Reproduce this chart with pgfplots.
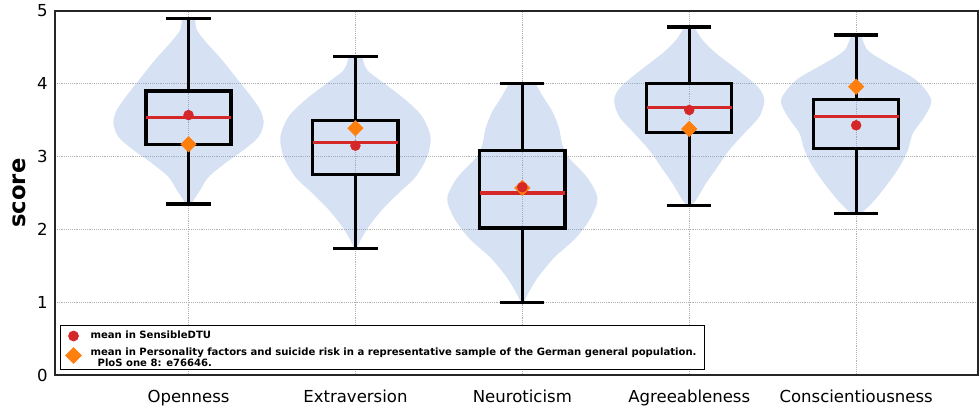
\documentclass[border=0pt]{standalone}
\usepackage{pgfplots}
\pgfplotsset{compat=1.18}
\usepackage{pgfplotstable}
\usepgfplotslibrary{statistics}
\usepackage{fontspec}
\setmainfont{DejaVu Sans}
\definecolor{vio}{RGB}{120,160,215}
\definecolor{mred}{RGB}{214,39,40}
\definecolor{morange}{RGB}{255,127,14}

\pgfplotstableread{
y w
4.90 0.04
4.74 0.05
4.56 0.11
4.33 0.20
4.10 0.28
3.87 0.36
3.64 0.43
3.46 0.45
3.27 0.42
3.09 0.33
2.91 0.22
2.72 0.12
2.54 0.07
2.40 0.03
2.35 0.02
}\vA
\pgfplotstableread{
y w
4.37 0.04
4.19 0.07
4.01 0.17
3.78 0.30
3.55 0.40
3.27 0.45
3.00 0.43
2.72 0.36
2.50 0.26
2.27 0.16
2.04 0.08
1.85 0.03
1.75 0.01
}\vB
\pgfplotstableread{
y w
4.00 0.08
3.80 0.13
3.62 0.18
3.39 0.22
3.16 0.24
2.98 0.28
2.71 0.39
2.43 0.45
2.16 0.41
1.88 0.32
1.61 0.19
1.33 0.09
1.10 0.03
1.00 0.01
}\vC
\pgfplotstableread{
y w
4.78 0.03
4.60 0.08
4.42 0.16
4.19 0.29
3.96 0.41
3.78 0.45
3.55 0.42
3.32 0.33
3.09 0.24
2.86 0.17
2.63 0.10
2.40 0.04
2.33 0.01
}\vD
\pgfplotstableread{
y w
4.67 0.03
4.46 0.07
4.28 0.19
4.05 0.36
3.78 0.45
3.55 0.41
3.32 0.34
3.09 0.31
2.86 0.26
2.63 0.19
2.40 0.11
2.24 0.04
2.22 0.02
}\vE

% build the full outline: right side top->bottom, then left side bottom->top
\newcommand{\mkviolin}[1]{%
  \pgfplotstablesort[sort key={y},sort cmp={float <}]{\tmpv}{#1}%
  \pgfplotstablecreatecol[create col/set={-1}]{s}{\tmpv}%
  \pgfplotstablecreatecol[create col/set={1}]{s}{#1}%
  \pgfplotstablevertcat{#1}{\tmpv}%
}
\mkviolin{\vA}
\mkviolin{\vB}
\mkviolin{\vC}
\mkviolin{\vD}
\mkviolin{\vE}

\newcommand{\violin}[2]{%
  \addplot[forget plot, fill=vio, fill opacity=0.3, draw=none, smooth, tension=0.5]
    table[x expr={#1+\thisrow{s}*\thisrow{w}}, y=y] {#2} -- cycle;
}
\newcommand{\bx}[6]{%
  \addplot[forget plot, black, line width=2.4pt, fill=none,
    boxplot prepared={draw position=#1, lower whisker=#2, lower quartile=#3,
      median=#4, upper quartile=#5, upper whisker=#6,
      box extend=0.51, whisker extend=0.265}] coordinates {};
}

\begin{document}
\begin{tikzpicture}
\begin{axis}[
  scale only axis, width=692.25pt, height=273pt,
  xmin=0.2, xmax=5.73, ymin=0, ymax=5,
  xtick={1,2,3,4,5},
  xticklabels={Openness,Extraversion,Neuroticism,Agreeableness,Conscientiousness},
  ytick={0,1,2,3,4,5},
  major tick length=0pt,
  grid=major,
  major grid style={densely dotted, black!30, line width=0.6pt},
  axis line style={black!85, line width=0.8pt},
  /pgf/number format/assume math mode=true,
  tick label style={font=\fontsize{12.4}{14}\selectfont},
  xticklabel style={inner sep=0pt, anchor=north, yshift=-11.25pt},
  yticklabel style={inner sep=0pt, anchor=east, xshift=-5.25pt},
  ylabel={score},
  every axis y label/.style={at={(axis description cs:-0.039,0.5)}, rotate=90, anchor=center, font=\fontsize{17}{20}\bfseries},
  boxplot/draw direction=y,
  boxplot/every box/.style={draw=black, line width=2.4pt, fill=none},
  boxplot/every whisker/.style={draw=black, line width=2.4pt},
  boxplot/every median/.style={draw=mred, line width=2.4pt},
  legend style={at={(rel axis cs:0.0055,0.014)}, anchor=south west,
    font=\fontsize{7.55}{9}\selectfont\bfseries, draw=black, line width=0.6pt,
    inner xsep=4pt, inner ysep=2.5pt, row sep=1pt, column sep=5pt},
  legend cell align=left,
  reverse legend,
]
\violin{1}{\vA}
\violin{2}{\vB}
\violin{3}{\vC}
\violin{4}{\vD}
\violin{5}{\vE}
\bx{1}{2.35}{3.17}{3.54}{3.90}{4.90}
\bx{2}{1.74}{2.75}{3.19}{3.50}{4.37}
\bx{3}{1.00}{2.02}{2.50}{3.08}{4.00}
\bx{4}{2.33}{3.33}{3.67}{4.00}{4.78}
\bx{5}{2.22}{3.11}{3.55}{3.78}{4.67}
\addplot[only marks, mark=square*, mark size=4.1pt, color=morange, mark options={rotate=45}]
  coordinates {(1,3.17) (2,3.39) (3,2.57) (4,3.38) (5,3.96)};
\addlegendentry{\begin{tabular}{@{}l@{}}mean in Personality factors and suicide risk in a representative sample of the German general population.\\[-1pt]\hspace{0.7em}PloS one 8: e76646.\end{tabular}}
\addplot[only marks, mark=*, mark size=3.7pt, color=mred]
  coordinates {(1,3.57) (2,3.15) (3,2.58) (4,3.64) (5,3.43)};
\addlegendentry{mean in SensibleDTU}
\end{axis}
\pgfresetboundingbox
\path ([xshift=-41.25pt,yshift=-25.5pt]current axis.south west) rectangle ([xshift=1.5pt,yshift=8.25pt]current axis.north east);
\end{tikzpicture}
\end{document}
